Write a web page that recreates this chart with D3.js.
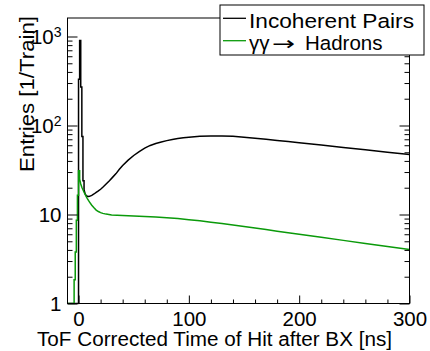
<!DOCTYPE html>
<html>
<head>
<meta charset="utf-8">
<script src="https://cdn.jsdelivr.net/npm/d3@7"></script>
<style>
  body { margin: 0; background: #fff; }
  svg { display: block; }
  text { font-family: "Liberation Sans", Arial, Helvetica, sans-serif; fill: #000; }
</style>
</head>
<body>
<svg id="chart" width="430" height="351"></svg>
<script>
// prompt peak, 1 ns bins given by low edge
const pairsPeakT = [0, 1, 2, 3, 4];
const pairsPeakV = [330, 900, 270, 75, 24];
// smooth part of the incoherent pairs spectrum
const pairsT = [5, 6, 7, 8, 9, 10, 12, 14, 16, 18, 20, 22, 25, 28, 31, 34, 37, 40, 45, 50, 55, 60, 65, 70, 75, 80, 85, 90, 95, 100, 110, 120, 130, 140, 150, 160, 170, 180, 190, 200, 220, 240, 260, 280, 300];
const pairsV = [19, 17, 16.3, 16, 15.9, 16, 16.4, 17, 17.7, 18.4, 19.2, 20.2, 22, 24, 26.3, 28.8, 32.2, 35.5, 40.8, 46, 51, 55.8, 59.7, 62.8, 65.4, 67.6, 69.6, 71.3, 72.7, 73.8, 75.6, 76.4, 76.4, 75.6, 73.8, 72, 70, 67.8, 65.9, 64, 60.2, 56.7, 53.4, 50.2, 47.2];

const hadronsPeakT = [-4, -3, -2, -1, 0];
const hadronsPeakV = [1.85, 3.8, 8.6, 16.5, 31];
const hadronsT = [1, 2, 3, 4, 5, 6, 7, 8, 9, 10, 12, 14, 16, 18, 20, 22, 25, 30, 40, 50, 60, 70, 80, 90, 100, 110, 120, 130, 140, 150, 160, 170, 180, 190, 200, 220, 240, 260, 280, 300];
const hadronsV = [25, 22, 20.2, 19, 17.8, 16.8, 15.9, 15.1, 14.4, 13.8, 12.7, 11.9, 11.2, 10.8, 10.5, 10.3, 10.1, 9.9, 9.75, 9.65, 9.5, 9.35, 9.2, 9.0, 8.75, 8.5, 8.2, 7.9, 7.6, 7.35, 7.05, 6.8, 6.5, 6.25, 6.0, 5.55, 5.12, 4.73, 4.37, 4.05];

const xTicks = [0, 100, 200, 300];
const yTicks = [1, 10, 100, 1000];

const svg = d3.select('#chart');
const W = 430, H = 351;
const margin = {top: 18, right: 20.5, bottom: 47.5, left: 67.5};
const width = W - margin.left - margin.right;
const height = H - margin.top - margin.bottom;

const x = d3.scaleLinear().domain([-10, 300]).range([0, width]);
const y = d3.scaleLog().domain([1, 1614]).range([height, 0]);

const g = svg.append('g').attr('transform', `translate(${margin.left},${margin.top})`);

g.append('clipPath').attr('id', 'clip')
    .append('rect').attr('x', 0).attr('y', -1).attr('width', width).attr('height', height + 2);

// histogram path: empty bins sit on the bottom, peak bins as steps, then the smooth tail
function buildPoints(peakT, peakV, tailT, tailV) {
    const yMin = y.domain()[0];
    const pts = [[x.domain()[0], yMin], [peakT[0], yMin]];
    peakT.forEach((t, i) => {
        pts.push([t, peakV[i]]);
        pts.push([t + 1, peakV[i]]);
    });
    tailT.forEach((t, i) => pts.push([t, tailV[i]]));
    return pts;
}

const line = d3.line()
    .x(d => x(d[0]))
    .y(d => y(Math.max(d[1], y.domain()[0])));

const plot = g.append('g').attr('clip-path', 'url(#clip)');

plot.append('path')
    .datum(buildPoints(pairsPeakT, pairsPeakV, pairsT, pairsV))
    .attr('d', line)
    .attr('fill', 'none')
    .attr('stroke', '#000')
    .attr('stroke-width', 1.5);

plot.append('path')
    .datum(buildPoints(hadronsPeakT, hadronsPeakV, hadronsT, hadronsV))
    .attr('d', line)
    .attr('fill', 'none')
    .attr('stroke', '#0a9a0a')
    .attr('stroke-width', 1.5);

// x axis: inward ticks
const xMinor = d3.range(0, 301, 20).filter(d => !xTicks.includes(d));
g.append('g')
    .attr('transform', `translate(0,${height})`)
    .call(d3.axisBottom(x).tickValues(xMinor).tickSize(-4).tickFormat(''))
    .call(a => a.select('.domain').remove());

const xAxis = g.append('g')
    .attr('transform', `translate(0,${height})`)
    .call(d3.axisBottom(x).tickValues(xTicks).tickSize(-8).tickPadding(8).tickFormat(d3.format('d')))
    .call(a => a.select('.domain').remove());
xAxis.selectAll('text').style('font-size', '20.5px').attr('font-family', null);

// y axis: log ticks left and right
const yMinor = [];
yTicks.forEach(d => { for (let k = 2; k <= 9; k++) if (d * k <= y.domain()[1]) yMinor.push(d * k); });

[[d3.axisLeft, 0], [d3.axisRight, width]].forEach(([axisFn, pos]) => {
    g.append('g')
        .attr('transform', `translate(${pos},0)`)
        .call(axisFn(y).tickValues(yMinor).tickSize(-5).tickFormat(''))
        .call(a => a.select('.domain').remove());
    g.append('g')
        .attr('transform', `translate(${pos},0)`)
        .call(axisFn(y).tickValues(yTicks).tickSize(-10).tickFormat(''))
        .call(a => a.select('.domain').remove());
});

g.selectAll('.tick line').attr('stroke', '#000');

const yLabels = g.append('g');
yTicks.forEach(d => {
    const exp = Math.round(Math.log10(d));
    const t = yLabels.append('text')
        .attr('x', -6)
        .attr('y', y(d))
        .attr('dy', '0.37em')
        .attr('text-anchor', 'end')
        .style('font-size', '20.5px');
    if (exp <= 1) {
        t.text(d);
    } else {
        t.append('tspan').text('10');
        t.append('tspan').attr('dy', -7).style('font-size', '14px').text(exp);
    }
});

// frame
g.append('rect')
    .attr('width', width)
    .attr('height', height)
    .attr('fill', 'none')
    .attr('stroke', '#000')
    .attr('stroke-width', 1);

// axis titles
svg.append('text')
    .attr('x', 37)
    .attr('y', 346)
    .attr('textLength', 355)
    .attr('lengthAdjust', 'spacingAndGlyphs')
    .style('font-size', '20px')
    .text('ToF Corrected Time of Hit after BX [ns]');

svg.append('text')
    .attr('transform', 'translate(34,16) rotate(-90)')
    .attr('text-anchor', 'end')
    .attr('textLength', 156)
    .attr('lengthAdjust', 'spacingAndGlyphs')
    .style('font-size', '20.5px')
    .text('Entries [1/Train]');

// legend
const legend = svg.append('g').attr('transform', 'translate(220,5)');
legend.append('rect')
    .attr('width', 204)
    .attr('height', 50)
    .attr('fill', '#fff')
    .attr('stroke', '#000')
    .attr('stroke-width', 1);

const entries = [
    {label: 'Incoherent Pairs', color: '#000', cy: 13.3},
    {label: 'γγ → Hadrons', color: '#0a9a0a', cy: 35.7}
];
entries.forEach(e => {
    legend.append('line')
        .attr('x1', 3).attr('x2', 26)
        .attr('y1', e.cy).attr('y2', e.cy)
        .attr('stroke', e.color)
        .attr('stroke-width', 1.3);
});
legend.append('text')
    .attr('x', 29).attr('y', 23.3)
    .attr('textLength', 165)
    .attr('lengthAdjust', 'spacingAndGlyphs')
    .style('font-size', '20.5px')
    .text(entries[0].label);
// second label split so the arrow gets its long ROOT width
legend.append('text')
    .attr('x', 29).attr('y', 45)
    .style('font-size', '20.5px')
    .text('γγ');
legend.append('text')
    .attr('transform', 'translate(52,45) scale(1.45,1)')
    .style('font-family', '"DejaVu Sans", sans-serif')
    .style('font-size', '19px')
    .text('→');
legend.append('text')
    .attr('x', 85).attr('y', 45)
    .style('font-size', '20.5px')
    .text('Hadrons');
</script>
</body>
</html>
